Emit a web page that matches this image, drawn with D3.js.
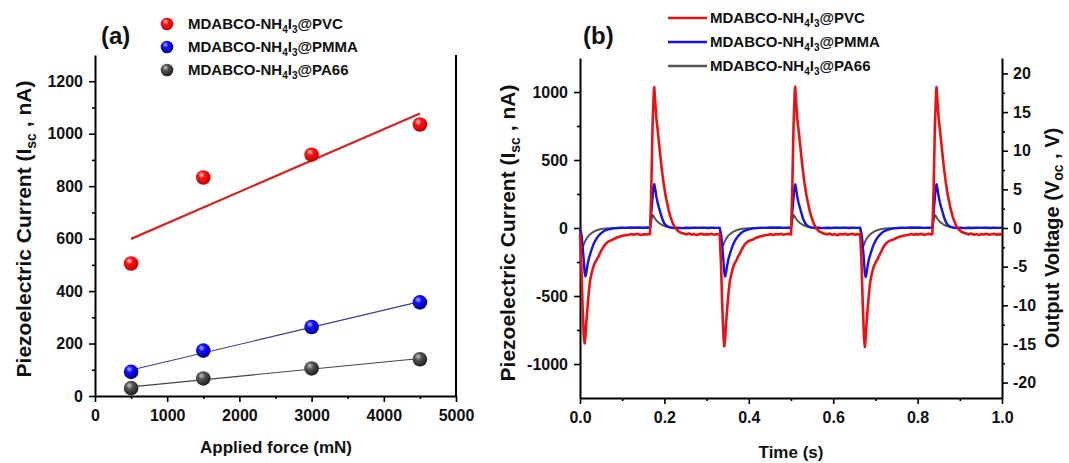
<!DOCTYPE html>
<html><head><meta charset="utf-8">
<script src="https://cdn.jsdelivr.net/npm/d3@7"></script>
<style>
body{margin:0;background:#fff}
svg{display:block}
text{font-family:"Liberation Sans",Arial,sans-serif;font-weight:bold;fill:#111}
</style>
</head><body><svg id="c" width="1069" height="463"></svg>
<script>
// ---------- Panel (a) data ----------
const forceLevels = [500, 1500, 3000, 4500];
const pvcCurrentA = [505, 833, 920, 1035];
const pmmaCurrentA = [92, 173, 263, 357];
const pa66CurrentA = [30, 67, 105, 140];
const forceTicks = [0, 1000, 2000, 3000, 4000, 5000];
const currentTicksA = [0, 200, 400, 600, 800, 1000, 1200];

// ---------- Panel (b) data ----------
const timeTicks = [0, 0.2, 0.4, 0.6, 0.8, 1.0];
const currentTicksB = [-1000, -500, 0, 500, 1000];
const voltageTicks = [-20, -15, -10, -5, 0, 5, 10, 15, 20];
const seriesNames = ["PVC", "PMMA", "PA66"];

// [time (s), current (nA)]
const pvcTrace = [
[0.000,-40],[0.003,-260],[0.006,-570],[0.009,-800],[0.011,-848],[0.013,-790],[0.015,-690],[0.018,-575],[0.021,-465],[0.024,-385],[0.028,-325],[0.032,-282],[0.036,-250],[0.039,-238],[0.041,-222],[0.044,-210],[0.047,-188],[0.051,-163],[0.055,-142],[0.060,-120],[0.066,-102],[0.072,-93],[0.079,-83],[0.087,-70],[0.095,-62],[0.105,-54],[0.115,-49],
[0.122,-44],[0.128,-50],[0.134,-43],[0.140,-47],[0.146,-52],[0.152,-45],[0.158,-48],[0.163,-44],[0.166,-46],
[0.169,300],[0.172,760],[0.175,1012],[0.176,1035],[0.178,935],[0.181,805],[0.184,722],[0.186,660],[0.190,540],[0.194,428],[0.198,332],[0.202,252],[0.206,190],[0.210,132],[0.214,86],[0.218,50],[0.222,20],[0.226,0],[0.230,-15],[0.234,-26],[0.240,-36],[0.246,-41],
[0.252,-47],[0.258,-40],[0.264,-49],[0.270,-44],[0.276,-52],[0.282,-46],[0.288,-42],[0.294,-50],[0.300,-45],[0.306,-48],[0.312,-43],[0.318,-50],[0.324,-46],[0.330,-44],
[0.331,-46],[0.334,-255],[0.337,-565],[0.340,-800],[0.342,-870],[0.344,-805],[0.346,-705],[0.349,-585],[0.352,-475],[0.355,-392],[0.359,-332],[0.363,-287],[0.367,-256],[0.371,-236],[0.374,-214],[0.378,-190],[0.382,-166],[0.386,-142],[0.391,-119],[0.397,-101],[0.403,-92],[0.410,-84],[0.418,-71],[0.426,-62],[0.436,-55],[0.446,-50],
[0.452,-45],[0.458,-51],[0.464,-44],[0.470,-48],[0.476,-43],[0.482,-50],[0.488,-46],[0.494,-42],[0.500,-47],
[0.503,290],[0.506,750],[0.509,1008],[0.510,1038],[0.512,930],[0.515,800],[0.518,720],[0.520,662],[0.524,542],[0.528,426],[0.532,330],[0.536,250],[0.540,188],[0.544,130],[0.548,85],[0.552,48],[0.556,18],[0.560,-2],[0.564,-16],[0.568,-27],[0.574,-36],[0.580,-42],
[0.586,-48],[0.592,-41],[0.598,-50],[0.604,-45],[0.610,-53],[0.616,-44],[0.622,-47],[0.628,-42],[0.634,-50],[0.640,-46],[0.646,-43],[0.652,-49],[0.658,-45],[0.663,-47],
[0.664,-45],[0.667,-250],[0.670,-560],[0.673,-805],[0.675,-875],[0.677,-808],[0.679,-700],[0.682,-582],[0.685,-472],[0.688,-390],[0.692,-330],[0.696,-284],[0.700,-255],[0.704,-236],[0.707,-216],[0.711,-191],[0.715,-165],[0.719,-141],[0.724,-118],[0.730,-100],[0.736,-91],[0.743,-84],[0.751,-72],[0.759,-63],[0.769,-55],[0.779,-50],
[0.785,-44],[0.791,-50],[0.797,-45],[0.803,-48],[0.809,-42],[0.815,-51],[0.821,-46],[0.827,-43],[0.832,-48],[0.835,-45],
[0.838,295],[0.841,755],[0.844,1010],[0.845,1035],[0.847,932],[0.850,802],[0.853,720],[0.855,660],[0.859,540],[0.863,427],[0.867,331],[0.871,251],[0.875,189],[0.879,131],[0.883,86],[0.887,49],[0.891,19],[0.895,-1],[0.899,-15],[0.903,-26],[0.909,-35],[0.915,-41],
[0.921,-47],[0.927,-40],[0.933,-50],[0.939,-44],[0.945,-52],[0.951,-45],[0.957,-48],[0.963,-42],[0.969,-50],[0.975,-46],[0.981,-43],[0.987,-49],[0.993,-45],[1.000,-47]
];
const pmmaTrace = [
[0.000,0],[0.004,-60],[0.008,-200],[0.011,-330],[0.013,-355],[0.015,-328],[0.018,-268],[0.021,-224],[0.024,-192],[0.028,-153],[0.032,-119],[0.036,-94],[0.040,-74],[0.044,-57],[0.050,-38],[0.056,-24],[0.063,-14],[0.071,-8],[0.080,-3],[0.090,0],
[0.100,3],[0.110,1],[0.120,4],[0.130,2],[0.140,5],[0.150,2],[0.160,4],[0.166,3],
[0.170,150],[0.174,300],[0.176,322],[0.178,292],[0.181,230],[0.184,185],[0.187,150],[0.190,118],[0.194,75],[0.198,44],[0.202,25],[0.206,14],[0.211,7],[0.216,3],[0.222,0],
[0.232,2],[0.242,-1],[0.252,2],[0.262,0],[0.272,3],[0.282,1],[0.292,3],[0.302,0],[0.312,2],[0.322,1],[0.331,2],
[0.335,-62],[0.339,-205],[0.342,-332],[0.344,-356],[0.346,-330],[0.349,-270],[0.352,-225],[0.355,-193],[0.359,-154],[0.363,-120],[0.367,-95],[0.371,-75],[0.375,-58],[0.381,-39],[0.387,-25],[0.394,-15],[0.402,-8],[0.411,-3],[0.421,0],
[0.431,3],[0.441,1],[0.451,4],[0.461,2],[0.471,4],[0.481,1],[0.491,3],[0.500,2],
[0.504,148],[0.508,298],[0.510,320],[0.512,290],[0.515,228],[0.518,184],[0.521,150],[0.524,117],[0.528,74],[0.532,44],[0.536,25],[0.540,14],[0.545,7],[0.550,3],[0.556,0],
[0.566,2],[0.576,-1],[0.586,2],[0.596,0],[0.606,3],[0.616,1],[0.626,3],[0.636,0],[0.646,2],[0.656,1],[0.664,2],
[0.668,-60],[0.672,-202],[0.675,-335],[0.677,-360],[0.679,-332],[0.682,-272],[0.685,-226],[0.688,-194],[0.692,-155],[0.696,-121],[0.700,-96],[0.704,-75],[0.708,-58],[0.714,-39],[0.720,-25],[0.727,-15],[0.735,-8],[0.744,-3],[0.754,0],
[0.764,3],[0.774,1],[0.784,4],[0.794,2],[0.804,4],[0.814,1],[0.824,3],[0.835,2],
[0.839,150],[0.843,300],[0.845,321],[0.847,291],[0.850,229],[0.853,185],[0.856,150],[0.859,118],[0.863,75],[0.867,44],[0.871,25],[0.875,14],[0.880,7],[0.885,3],[0.891,0],
[0.901,2],[0.911,-1],[0.921,2],[0.931,0],[0.941,3],[0.951,1],[0.961,3],[0.971,0],[0.981,2],[0.991,1],[1.000,2]
];
const pa66Trace = [
[0.000,0],[0.003,-70],[0.006,-138],[0.008,-130],[0.011,-105],[0.015,-80],[0.020,-58],[0.024,-46],[0.030,-32],[0.036,-22],[0.042,-14],[0.050,-8],[0.060,-4],[0.070,-2],[0.080,0],[0.120,1],[0.166,0],
[0.170,70],[0.172,95],[0.174,90],[0.178,68],[0.182,52],[0.186,40],[0.191,29],[0.196,20],[0.202,13],[0.208,8],[0.216,4],[0.226,1],[0.236,0],[0.280,1],[0.331,0],
[0.334,-70],[0.337,-140],[0.339,-131],[0.342,-105],[0.346,-80],[0.351,-58],[0.355,-46],[0.361,-32],[0.367,-22],[0.373,-14],[0.381,-8],[0.391,-4],[0.401,-2],[0.411,0],[0.455,1],[0.500,0],
[0.504,70],[0.506,95],[0.508,90],[0.512,68],[0.516,52],[0.520,40],[0.525,29],[0.530,20],[0.536,13],[0.542,8],[0.550,4],[0.560,1],[0.570,0],[0.615,1],[0.664,0],
[0.667,-70],[0.670,-139],[0.672,-130],[0.675,-105],[0.679,-80],[0.684,-58],[0.688,-46],[0.694,-32],[0.700,-22],[0.706,-14],[0.714,-8],[0.724,-4],[0.734,-2],[0.744,0],[0.790,1],[0.835,0],
[0.839,70],[0.841,95],[0.843,90],[0.847,68],[0.851,52],[0.855,40],[0.860,29],[0.865,20],[0.871,13],[0.877,8],[0.885,4],[0.895,1],[0.905,0],[0.950,1],[1.000,0]
];

// ---------- styles ----------
const colorsB = {PVC:"#ee1010", PMMA:"#1414e6", PA66:"#555555"};
const svg = d3.select("#c");
const defs = svg.append("defs");
function sphere(id, hi, mid, dark){
  const g = defs.append("radialGradient").attr("id", id).attr("cx","38%").attr("cy","32%").attr("r","68%");
  g.append("stop").attr("offset","0%").attr("stop-color", hi);
  g.append("stop").attr("offset","35%").attr("stop-color", mid);
  g.append("stop").attr("offset","100%").attr("stop-color", dark);
}
sphere("gR", "#ffd0d0", "#ff1010", "#c00000");
sphere("gB", "#b0b0ff", "#1010ff", "#000090");
sphere("gG", "#c8c8c8", "#555555", "#1e1e1e");

function chemLabel(sel, polymer, size){
  const sub = Math.round(size*0.68);
  sel.append("tspan").text("MDABCO-NH");
  sel.append("tspan").attr("font-size", sub).attr("dy", 4).text("4");
  sel.append("tspan").attr("dy", -4).text("I");
  sel.append("tspan").attr("font-size", sub).attr("dy", 4).text("3");
  sel.append("tspan").attr("dy", -4).text("@" + polymer);
}
function styleAxis(g){
  g.selectAll(".domain").attr("stroke","#000").attr("stroke-width",2);
  g.selectAll(".tick line").attr("stroke","#000").attr("stroke-width",1.6);
  g.selectAll(".tick text").attr("font-size",16).attr("font-weight","bold").attr("fill","#111")
    .attr("font-family","Liberation Sans, Arial, sans-serif");
}
function minorTicks(ticks){
  const out = [];
  for (let i=0;i<ticks.length-1;i++) out.push((ticks[i]+ticks[i+1])/2);
  return out;
}
function linreg(xs, ys){
  const mx = d3.mean(xs), my = d3.mean(ys);
  let sxy=0, sxx=0;
  xs.forEach((x,i)=>{ sxy += (x-mx)*(ys[i]-my); sxx += (x-mx)*(x-mx); });
  const b = sxy/sxx; return x => my + b*(x-mx);
}
function yTitle(g, x, y, main, sub, tail, size, shift){
  const t = g.append("text").attr("transform",`translate(${x},${y}) rotate(-90)`).attr("text-anchor","middle").attr("font-size",size);
  t.append("tspan").text(main);
  t.append("tspan").attr("font-size",Math.round(size*0.68)).attr("dy",shift).text(sub);
  t.append("tspan").attr("dy",-shift).text(tail);
}
const intFmt = d => String(d);

// ---------- Panel (a) ----------
const xA = d3.scaleLinear().domain([0,5000]).range([95,456]);
const yA = d3.scaleLinear().domain([0,1300]).range([396,55]);
const gA = svg.append("g");

gA.append("g").attr("transform","translate(0,396)")
  .call(d3.axisBottom(xA).tickValues(forceTicks).tickSize(6).tickSizeOuter(0).tickPadding(8).tickFormat(intFmt)).call(styleAxis);
gA.append("g").attr("transform","translate(0,396)")
  .call(d3.axisBottom(xA).tickValues(minorTicks(forceTicks)).tickSize(3).tickFormat("")).call(styleAxis)
  .select(".domain").remove();
gA.append("g").attr("transform","translate(95,0)")
  .call(d3.axisLeft(yA).tickValues(currentTicksA).tickSize(6).tickSizeOuter(0).tickPadding(6).tickFormat(intFmt)).call(styleAxis);
gA.append("g").attr("transform","translate(95,0)")
  .call(d3.axisLeft(yA).tickValues(minorTicks(currentTicksA)).tickSize(3).tickFormat("")).call(styleAxis)
  .select(".domain").remove();
gA.append("line").attr("x1",xA(5000)).attr("x2",xA(5000)).attr("y1",yA(1300)).attr("y2",yA(0))
  .attr("stroke","#000").attr("stroke-width",2);

const seriesA = [
  {name:"PVC", ys:pvcCurrentA, line:"#d42525", lw:2.2, grad:"gR"},
  {name:"PMMA", ys:pmmaCurrentA, line:"#3b3b90", lw:1.1, grad:"gB"},
  {name:"PA66", ys:pa66CurrentA, line:"#444444", lw:1.1, grad:"gG"}
];
seriesA.forEach(s=>{
  const f = linreg(forceLevels, s.ys);
  const x0 = d3.min(forceLevels), x1 = d3.max(forceLevels);
  gA.append("line").attr("x1",xA(x0)).attr("y1",yA(f(x0))).attr("x2",xA(x1)).attr("y2",yA(f(x1)))
    .attr("stroke",s.line).attr("stroke-width",s.lw);
});
seriesA.forEach(s=>{
  gA.selectAll(null).data(forceLevels.map((x,i)=>[x,s.ys[i]])).enter().append("circle")
    .attr("cx",d=>xA(d[0])).attr("cy",d=>yA(d[1])).attr("r",7.3).attr("fill",`url(#${s.grad})`);
});
gA.append("text").attr("x",101).attr("y",44).attr("font-size",24).text("(a)");
seriesA.forEach((s,i)=>{
  const cy = 24 + i*23;
  gA.append("circle").attr("cx",167).attr("cy",cy).attr("r",6.3).attr("fill",`url(#${s.grad})`);
  chemLabel(gA.append("text").attr("x",188).attr("y",cy+5).attr("font-size",15), s.name, 15);
});
gA.append("text").attr("x",276).attr("y",453).attr("text-anchor","middle").attr("font-size",17).text("Applied force (mN)");
yTitle(gA, 31, 229, "Piezoelectric Current (I", "sc", " , nA)", 21, 5);

// ---------- Panel (b) ----------
const xB = d3.scaleLinear().domain([0,1]).range([580,1002]);
const yB = d3.scaleLinear().domain([-1250,1250]).range([398,58]);
const yV = d3.scaleLinear().domain([-22,22]).range([398,58]);
const gB = svg.append("g");

gB.append("g").attr("transform","translate(0,398)")
  .call(d3.axisBottom(xB).tickValues(timeTicks).tickSize(6).tickSizeOuter(0).tickPadding(8).tickFormat(d3.format(".1f"))).call(styleAxis);
gB.append("g").attr("transform","translate(0,398)")
  .call(d3.axisBottom(xB).tickValues(minorTicks(timeTicks)).tickSize(3).tickFormat("")).call(styleAxis)
  .select(".domain").remove();
gB.append("g").attr("transform","translate(580,0)")
  .call(d3.axisLeft(yB).tickValues(currentTicksB).tickSize(6).tickSizeOuter(0).tickPadding(6).tickFormat(intFmt)).call(styleAxis);
gB.append("g").attr("transform","translate(580,0)")
  .call(d3.axisLeft(yB).tickValues(minorTicks(currentTicksB)).tickSize(3).tickFormat("")).call(styleAxis)
  .select(".domain").remove();
gB.append("g").attr("transform","translate(1002,0)")
  .call(d3.axisRight(yV).tickValues(voltageTicks).tickSize(6).tickSizeOuter(0).tickPadding(5).tickFormat(intFmt)).call(styleAxis);
gB.append("g").attr("transform","translate(1002,0)")
  .call(d3.axisRight(yV).tickValues(minorTicks(voltageTicks)).tickSize(3).tickFormat("")).call(styleAxis)
  .select(".domain").remove();

const lineB = d3.line().x(d=>xB(d[0])).y(d=>yB(d[1])).curve(d3.curveLinear);
const tracesB = [
  {name:"PA66", data:pa66Trace, lw:2},
  {name:"PMMA", data:pmmaTrace, lw:2.4},
  {name:"PVC", data:pvcTrace, lw:2.6}
];
tracesB.forEach(s=>{
  gB.append("path").datum(s.data).attr("d",lineB).attr("fill","none")
    .attr("stroke",colorsB[s.name]).attr("stroke-width",s.lw).attr("stroke-linejoin","round");
});
gB.append("text").attr("x",583).attr("y",44).attr("font-size",24).text("(b)");
seriesNames.forEach((n,i)=>{
  const cy = 18 + i*24;
  gB.append("line").attr("x1",668).attr("x2",707).attr("y1",cy).attr("y2",cy)
    .attr("stroke",colorsB[n]).attr("stroke-width",2.5);
  chemLabel(gB.append("text").attr("x",710).attr("y",cy+5).attr("font-size",15), n, 15);
});
gB.append("text").attr("x",791).attr("y",458).attr("text-anchor","middle").attr("font-size",17).text("Time (s)");
yTitle(gB, 515, 233, "Piezoelectric Current (I", "sc", " , nA)", 21, 5);
yTitle(gB, 1059, 238, "Output Voltage (V", "oc", " , V)", 20, 4);
</script>
</body></html>
